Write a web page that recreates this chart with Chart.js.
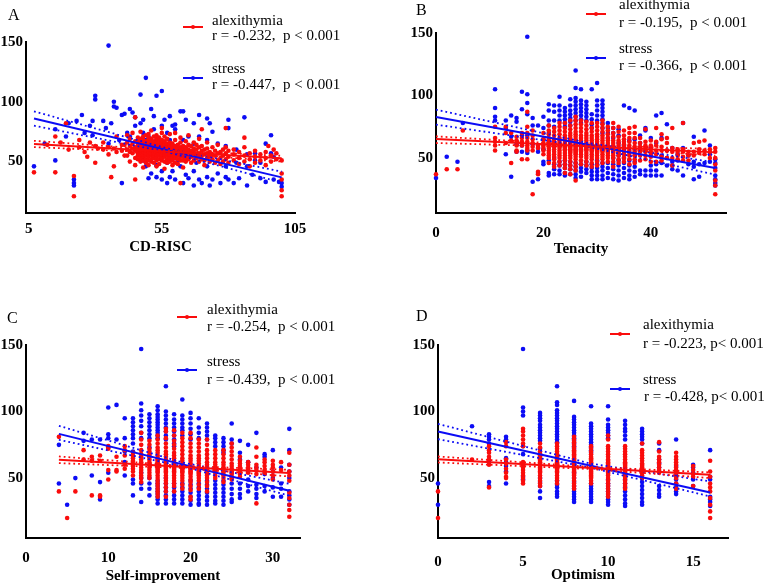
<!DOCTYPE html>
<html>
<head>
<meta charset="utf-8">
<script src="https://cdn.jsdelivr.net/npm/chart.js@4.4.1/dist/chart.umd.min.js"></script>
<style>
  body { margin: 0; background: #fff; }
  #page { position: relative; width: 772px; height: 585px; overflow: hidden; font-family: "Liberation Serif", serif; color: #000; }
  canvas { position: absolute; }
  .tag { position: absolute; font-size: 16px; line-height: 16px; }
  .txt { position: absolute; font-size: 15px; line-height: 15px; white-space: pre; }
  .sw { position: absolute; width: 20px; height: 2px; }
  .sw::after { content: ''; position: absolute; left: 8px; top: -1px; width: 4px; height: 4px; border-radius: 50%; background: inherit; }
  .red { background: rgb(250, 12, 12); }
  .blue { background: rgb(12, 12, 245); }
</style>
</head>
<body>
<div id="page">
  <canvas id="cA" width="386" height="290" style="left:0;top:0"></canvas>
  <canvas id="cB" width="386" height="290" style="left:386px;top:0"></canvas>
  <canvas id="cC" width="386" height="295" style="left:0;top:290px"></canvas>
  <canvas id="cD" width="386" height="295" style="left:386px;top:290px"></canvas>

  <div class="tag" style="left:8px;top:7px">A</div>
  <div class="sw red" style="left:183px;top:26px"></div>
  <div class="txt" style="left:212px;top:13px">alexithymia</div>
  <div class="txt" style="left:212px;top:28px">r = -0.232,  p &lt; 0.001</div>
  <div class="sw blue" style="left:183px;top:77px"></div>
  <div class="txt" style="left:212px;top:61px">stress</div>
  <div class="txt" style="left:212px;top:77px">r = -0.447,  p &lt; 0.001</div>

  <div class="tag" style="left:416px;top:2px">B</div>
  <div class="sw red" style="left:586px;top:13px"></div>
  <div class="txt" style="left:619px;top:-3px">alexithymia</div>
  <div class="txt" style="left:619px;top:15px">r = -0.195,  p &lt; 0.001</div>
  <div class="sw blue" style="left:586px;top:57px"></div>
  <div class="txt" style="left:619px;top:41px">stress</div>
  <div class="txt" style="left:619px;top:58px">r = -0.366,  p &lt; 0.001</div>

  <div class="tag" style="left:7px;top:310px">C</div>
  <div class="sw red" style="left:177px;top:316px"></div>
  <div class="txt" style="left:207px;top:302px">alexithymia</div>
  <div class="txt" style="left:207px;top:319px">r = -0.254,  p &lt; 0.001</div>
  <div class="sw blue" style="left:177px;top:369px"></div>
  <div class="txt" style="left:207px;top:354px">stress</div>
  <div class="txt" style="left:207px;top:372px">r = -0.439,  p &lt; 0.001</div>

  <div class="tag" style="left:416px;top:308px">D</div>
  <div class="sw red" style="left:610px;top:333px"></div>
  <div class="txt" style="left:643px;top:317px">alexithymia</div>
  <div class="txt" style="left:643px;top:336px">r = -0.223, p&lt; 0.001</div>
  <div class="sw blue" style="left:610px;top:388px"></div>
  <div class="txt" style="left:643px;top:372px">stress</div>
  <div class="txt" style="left:644px;top:389px">r = -0.428, p&lt; 0.001</div>
</div>

<script>
// tick labels
const yTicks = [50, 100, 150];
const aXTicks = [5, 55, 105];
const bXTicks = [0, 20, 40];
const cXTicks = [0, 10, 20, 30];
const dXTicks = [0, 5, 10, 15];

// scatter data, [x, [y values at that x]]
const aBlue = [[7,[46]],[11,[65]],[15,[77,51]],[19,[71]],[20,[82]],[22,[35,32,30]],[23,[84]],[25,[89]],[26,[74]],[28,[80]],[29,[72,84]],
  [30,[105,102]],[33,[84]],[34,[78]],[35,[147,65]],[36,[82]],[37,[100,96]],[38,[95]],[39,[68]],[40,[89,32]],[41,[90]],[42,[74]],[43,[94,71]],
  [44,[91]],[45,[87,80]],[47,[106,82]],[48,[85,74,51]],[49,[120,68,46]],[50,[71,36]],[51,[94,40]],[52,[88,77]],[53,[105,68,47,37]],
  [55,[109,80,42,35]],[56,[85]],[57,[74,49,32]],[58,[88,68,37]],[59,[80,42]],[60,[81,77,35]],[61,[51]],[62,[92,46]],[63,[92,68,32]],
  [64,[85,39]],[65,[71,36]],[67,[82,65,42,30]],[68,[49]],[69,[89,71,35]],[70,[32]],[72,[86,68,46,37]],[73,[82,30]],[74,[75,35]],
  [76,[65,40]],[77,[32]],[79,[63,46,37]],[80,[85,78,35]],[82,[32]],[83,[60,49]],[84,[36]],[86,[87]],[87,[56,46,30]],[89,[39]],
  [90,[57,51]],[92,[49,36]],[94,[65,33]],[96,[72,57]],[97,[54,35]],[99,[33]],[100,[32,29]]];
const aRed = [[7,[41]],[12,[64]],[15,[71,41]],[17,[66]],[19,[82]],[20,[60]],[22,[38,21]],[24,[62,68]],[26,[58]],[27,[54]],[28,[66]],
  [30,[49,63]],[31,[61]],[33,[60,66]],[35,[56,62]],[36,[37]],[37,[46,61]],[38,[71,58]],[40,[59,64]],[41,[64,55]],
  [42,[60,66,55,72]],[43,[58,63,69,50]],[44,[61,57,65,74]],[45,[59,62,67,53,47,87,35]],
  [46,[52,55,57,59,61,63,65,67,70]],[47,[50,53,56,58,60,62,64,66,69,75]],[48,[45,51,54,56,58,60,62,64,66,68,71]],
  [49,[49,52,55,57,59,61,63,65,67,72]],[50,[47,51,54,56,58,60,62,64,66,68,70,73]],[51,[50,52,55,57,59,61,63,65,67,69,76]],
  [52,[49,53,55,57,59,61,63,65,67,71]],[53,[46,51,54,56,58,60,62,64,66,69,72]],[54,[48,52,55,57,59,61,63,65,67,70]],
  [55,[51,53,56,58,60,62,64,66,68,74,78]],[56,[44,50,54,56,58,60,62,64,67,71]],[57,[49,52,55,57,59,61,63,65,69]],
  [58,[50,53,56,58,60,62,64,66,73]],[59,[47,51,54,56,58,60,62,65]],[60,[49,53,55,57,59,61,63,68,74]],
  [61,[48,52,55,57,59,61,64]],[62,[32,51,54,56,58,60,62,66,70]],[63,[45,51,54,56,58,61,63]],[64,[50,53,56,59,62,67]],
  [65,[52,55,58,60,64,72]],[66,[54,57,59,63,49]],[67,[51,55,58,61,66]],[68,[53,56,60,64]],[69,[50,54,57,62,69]],
  [70,[52,55,59,63,77]],[71,[51,56,60,47]],[72,[53,57,61,66]],[73,[50,54,58]],[74,[52,56,62]],[75,[49,55,59]],
  [76,[51,57,64]],[77,[53,58,48]],[78,[50,55,60]],[79,[52,57,62,78]],[80,[54,49,59]],[82,[51,56,60]],[84,[53,58,48]],
  [86,[50,55,62,70]],[88,[52,57,46]],[90,[54,59,49]],[92,[51,56]],[94,[53,58,47]],[95,[63]],[96,[50,55]],[97,[60]],
  [98,[52,57]],[100,[51,40,35,26,21]]];

const bBlue = [[0,[34]],[2,[51]],[4,[47]],[5,[78]],[11,[105,90,83,80]],[13,[80,74,53]],[14,[84,67,35]],[15,[82,79,61,55]],
  [16,[103,89,68,60,55]],[17,[147,101,94,85,68,56,54]],[18,[82,76,61,31]],[19,[76,58,55,38,33]],[20,[83,74,65,57,47,45]],
  [21,[93,88,80,76,70,48,38,36]],[22,[92,87,80,75,50,45,41,37]],[23,[99,92,88,84,80,47,44,40,37]],
  [24,[90,87,84,81,78,75,48,45,42,38,36]],[25,[97,92,88,85,82,79,76,47,44,41,37]],
  [26,[120,106,98,95,92,89,86,83,80,46,43,40,37,34]],[27,[105,96,93,90,87,84,81,78,45,42,39,35]],
  [28,[95,92,89,86,83,80,47,44,41,38]],[29,[105,85,81,77,74,45,42,39,36,33]],[30,[110,96,92,88,84,80,48,45,42,39,36,33]],
  [31,[96,93,90,87,84,81,78,74,70,46,43,40,36,33]],[32,[78,74,70,66,46,42,38,34]],[33,[74,70,66,50,45,41,37,33]],
  [34,[73,68,62,52,48,44,40,36,32]],[35,[92,60,50,46,42,38,34]],[36,[90,64,48,44,40,36,33]],[37,[88,65,52,47,43,39,35]],
  [38,[68,62,56,40,37]],[39,[74,72,56,40,36]],[40,[66,58,52,44,40,36]],[41,[84,62,45,40,36]],[42,[86,66,52,46,36]],
  [43,[77,56,50,44]],[44,[58,47,44,41]],[45,[53,48,40]],[46,[78,58,36]],[47,[52,45]],[48,[67,47,43,33]],[49,[45,35]],
  [50,[72,46]],[51,[60,53,47]],[52,[49,46,42,36,33,30,28]]];
const bRed = [[0,[37]],[2,[41]],[4,[41]],[5,[72]],[11,[75,66,63,60,56]],[13,[75,70,62]],[14,[70,64,46]],[15,[67,64,60,56,55]],
  [16,[70,66,63,60,49]],[17,[87,75,70,66,63,60,58,56,49]],[18,[72,68,65,62,59,56,21]],[19,[60,58,39,37]],[20,[70,65,62,60,58,56,53]],
  [21,[76,72,69,66,64,62,60,58,56,54,52,50,46]],[22,[74,71,68,65,63,61,59,57,55,53,51,49,46,43]],
  [23,[78,75,72,69,66,64,62,60,58,56,54,52,50,47,44]],[24,[78,74,71,68,66,64,62,61,60,59,58,57,56,54,52,50,48,45,42,38]],
  [25,[80,76,73,70,68,66,64,63,62,61,60,59,58,57,56,55,54,52,50,47,44,41,37]],
  [26,[83,80,77,74,71,69,67,65,63,62,61,60,59,58,57,56,55,54,53,51,49,46,43,40,32]],
  [27,[80,77,74,71,68,66,64,62,61,60,59,58,57,56,55,53,51,48,45]],[28,[79,76,73,70,68,66,64,62,61,60,59,58,57,56,54,52,50,47,44]],
  [29,[78,74,71,68,66,64,62,61,60,59,58,57,56,55,53,51,49,46,43]],[30,[78,75,72,69,67,65,63,61,60,59,58,57,56,55,54,52,50,47,44]],
  [31,[80,77,74,71,68,66,64,62,60,59,58,57,56,55,53,51,49,46]],[32,[75,72,69,66,64,62,60,58,57,56,55,54,52,50,47]],
  [33,[78,74,70,67,64,62,60,58,57,56,55,54,52,50,47,43]],[34,[75,71,67,64,62,60,58,57,56,55,54,52,49,46]],
  [35,[72,68,65,63,61,59,57,55,53,50,47]],[36,[74,70,66,63,60,58,56,54,52,49,45]],[37,[75,70,66,62,59,57,55,52,49,46]],
  [38,[66,62,59,57,55,52,48]],[39,[73,63,60,58,55,52,49]],[40,[64,60,57,54,51,47]],[41,[74,63,60,56,53,47]],
  [42,[69,65,59,56,51,48]],[43,[66,62,56,50]],[44,[74,58,55,50,44]],[45,[57,55,52,49]],[46,[78,57,55,51,48]],[47,[55,52,48]],
  [48,[62,55,52]],[49,[63,57,54]],[50,[64,56,53]],[51,[57,55,50]],[52,[58,55,50,45,40,32,28,21]]];

const cBlue = [[4,[75,46]],[5,[30]],[6,[50]],[7,[84,78]],[8,[79,52]],[9,[79,47,34]],[10,[103,83,80,73,54]],[11,[105,79]],
  [12,[95,80,70,62,52]],[13,[95,92,89,86,83,80,76,70,49,46,37]],[14,[147,106,101,97,93,89,84,80,54,50,46,42,32]],
  [15,[98,95,92,89,86,83,80,73,66,60,50,46,42,37]],[16,[104,101,98,96,94,92,90,88,86,84,82,80,48,46,44,42,40,38,36,34,31]],
  [17,[119,100,97,94,91,88,85,82,79,50,46,43,40,37,34,31]],[18,[98,94,91,88,85,82,79,76,74,46,43,40,37,34,31]],
  [19,[109,97,94,91,88,86,82,46,43,40,37,34,31]],[20,[99,95,91,87,83,79,48,45,42,39,36,33,30]],
  [21,[95,88,84,80,46,43,40,37,34,31,30]],[22,[91,88,85,82,79,48,45,42,39,36,33,30]],[23,[82,80,77,74,48,45,42,39,36,33,31]],
  [24,[80,77,74,71,69,48,45,42,39,36,33,30]],[25,[91,79,76,54,50,46,42,38,34,32]],[26,[78,69,64,46,42,38,35]],
  [27,[75,62,55,49,44,40]],[28,[84,58,45,42,38,35]],[29,[68,66,53,44,40]],[30,[71,55,50,43,36]],[31,[58,46,42,36]],
  [32,[87,71,60,55,50,40,37,34,30]]];
const cRed = [[4,[81,40]],[5,[20]],[6,[40]],[7,[71,64]],[8,[66,63,37]],[9,[67,63,37,36]],[10,[74,72,56,49]],[11,[66,56,55]],
  [12,[74,71,67,60,57]],[13,[69,67,65,63,61,59,57,55,52]],[14,[84,79,75,71,68,66,64,62,60,58,56,54,52,50,47]],
  [15,[78,75,72,70,68,66,64,62,60,58,56,54,52,50]],
  [16,[82,79,76,73,71,69,67,65,64,63,62,61,60,59,58,57,56,55,54,52,50,48,46,44,42,40,38,36]],
  [17,[87,85,80,76,73,70,68,66,64,62,61,60,59,58,57,56,55,54,52,50,48,46,43,40,36]],
  [18,[86,82,78,75,72,69,67,65,63,61,60,59,58,57,56,55,54,52,50,48,46,44,40]],
  [19,[84,80,77,74,71,68,65,63,61,60,59,58,57,56,55,54,52,50,48,45,42]],
  [20,[84,80,76,73,70,67,65,63,61,59,58,57,56,55,54,53,51,49,47,44,41,36,34]],
  [21,[79,76,73,70,67,65,63,61,59,57,56,55,54,53,52,50,48,45,42]],[22,[79,75,71,68,65,62,60,58,57,56,55,54,53,52,50,47,44,40]],
  [23,[71,68,65,62,60,58,56,55,54,52,50]],[24,[71,68,65,62,60,58,57,56,55,54,52,50,47]],[25,[76,73,70,67,64,61,59,57,55,53,51,49]],
  [26,[66,63,61,59,57,55,53,51]],[27,[62,60,58,56,54]],[28,[73,66,60,58,56,53,31]],[29,[64,62,59,56,54]],[30,[63,60,58,55,52,49]],
  [31,[62,56]],[32,[69,60,55,52,48,39,35,30,26,21]]];

const dBlue = [[0,[46,30]],[2,[89]],[3,[83,81,79,76,62,47,44]],[4,[81,79,65,62,59,55,46]],[5,[147,103,100,97,74,68,51,49]],
  [6,[99,97,95,93,90,88,86,84,82,80,78,72,68,50,47,44,40,35]],
  [7,[119,107,105,101,99,97,95,93,91,89,87,85,83,81,79,77,48,45,43,40,38,36]],
  [8,[108,96,94,92,90,88,86,84,82,80,78,76,74,72,54,50,47,44,42,40,38,36,34,32]],
  [9,[104,91,89,87,85,83,81,79,77,75,73,71,69,46,44,42,40,38,36,34,32]],[10,[104,94,90,88,86,84,82,80,49,46,44,42,40,38,36,34,32,30]],
  [11,[93,90,87,85,82,79,49,46,43,40,37,34,31,29]],[12,[87,85,83,81,79,76,54,50,47,44,41,38,35,32,30]],
  [13,[76,71,64,61,58,55,44,41,38,36]],[14,[79,59,55,52,49,46,43,40,38]],[15,[60,58,54,49,44]],[16,[71,51,49,36,34,32,29]]];
const dRed = [[0,[40,20]],[2,[64]],[3,[74,71,69,66,64,60,43]],[4,[77,74,64,61,57,54,51,50]],
  [5,[87,85,82,79,76,74,62,60,58,56,54,52,50,48,46]],[6,[76,73,70,68,67,66,65,64,63,62,61,60,59,58,57,56,55,54,52,50,48,46,44]],
  [7,[76,74,72,70,68,66,65,64,63,62,61,60,59,58,57,56,55,54,52,50,48,46]],
  [8,[81,79,77,75,73,71,70,69,68,67,66,65,64,63,62,61,60,59,58,57,56,55,54,53,52,50,48,46,44,42]],
  [9,[74,72,70,68,66,65,64,63,62,61,60,59,58,57,56,55,54,53,52,51,50,48,46]],
  [10,[82,79,74,72,70,68,66,64,63,62,61,60,59,58,57,56,55,54,53,52,50,48,46,44,42,40,38,36]],
  [11,[74,72,70,68,66,64,62,61,60,59,58,57,56,55,54,53,52,51,50,48,46,44,42]],
  [12,[76,71,69,67,65,63,61,60,59,58,57,56,55,54,52,50]],[13,[77,70,66,64,62,60,58,56,54]],
  [14,[69,66,64,62,60,58,56,54,50,46,42]],[15,[59,56,53,51,44]],[16,[63,55,51,46,43,40,35,30,25,20]]];

// fitted lines and 95% bands: [x, y]
const aFitRed = [[7, 64.6], [100, 52.8]];
const aFitBlue = [[7, 86], [100, 36.8]];
const aBandRed = [[[7, 67.4], [57, 59.3], [100, 54.8]], [[7, 62.1], [57, 57.3], [100, 50]]];
const aBandBlue = [[[7, 92], [57, 61], [100, 41.6]], [[7, 80], [57, 58], [100, 32.5]]];

const bFitRed = [[0, 65.2], [52, 54.5]];
const bFitBlue = [[0, 82.8], [52, 42]];
const bBandRed = [[[0, 67.3], [28, 60.2], [52, 57.2]], [[0, 62], [28, 58.6], [52, 51.9]]];
const bBandBlue = [[[0, 88.7], [28, 62.3], [52, 46.5]], [[0, 76.7], [28, 59.3], [52, 36.7]]];

const cFitRed = [[4, 63.75], [32, 53.75]];
const cFitBlue = [[4, 83.25], [32, 40.5]];
const cBandRed = [[[4, 66.25], [19, 59.2], [32, 56.25]], [[4, 61.25], [19, 57.6], [32, 51.25]]];
const cBandBlue = [[[4, 89.25], [19, 61.8], [32, 45.75]], [[4, 78.75], [19, 58.9], [32, 36.75]]];

const dFitRed = [[0, 64.25], [16, 52.5]];
const dFitBlue = [[0, 85], [16, 39.25]];
const dBandRed = [[[0, 66.25], [9, 58.4], [16, 54.25]], [[0, 61.75], [9, 56.8], [16, 50]]];
const dBandBlue = [[[0, 90.75], [9, 60.8], [16, 47.5]], [[0, 79.25], [9, 57.8], [16, 36.25]]];

const RED = 'rgb(250, 12, 12)';
const BLUE = 'rgb(12, 12, 245)';
const axisFont = { family: 'Liberation Serif', size: 15, weight: 'bold' };

function toPoints(cols) {
  const pts = [];
  cols.forEach(([x, ys]) => ys.forEach(y => pts.push({ x: x, y: y })));
  return pts;
}

function lineSet(pairs, color, dotted) {
  return {
    data: pairs.map(([x, y]) => ({ x: x, y: y })),
    showLine: true, pointRadius: 0, borderColor: color,
    borderWidth: dotted ? 1.8 : 2, borderDash: dotted ? [1.8, 3] : [], clip: false
  };
}

function dotSet(cols, color) {
  return { data: toPoints(cols), pointRadius: 2.3, borderWidth: 0, backgroundColor: color, clip: false };
}

function panel(id, o) {
  const h = document.getElementById(id).height;
  new Chart(document.getElementById(id), {
    type: 'scatter',
    data: {
      datasets: [
        lineSet(o.fitRed, RED, false), lineSet(o.bandRed[0], RED, true), lineSet(o.bandRed[1], RED, true),
        lineSet(o.fitBlue, BLUE, false), lineSet(o.bandBlue[0], BLUE, true), lineSet(o.bandBlue[1], BLUE, true),
        dotSet(o.red, RED), dotSet(o.blue, BLUE)
      ]
    },
    options: {
      responsive: false, animation: false, devicePixelRatio: 1,
      layout: { padding: { left: 0, top: o.top, right: o.right, bottom: 0 } },
      plugins: { legend: { display: false }, tooltip: { enabled: false } },
      scales: {
        x: {
          type: 'linear', min: o.xMin, max: o.xMax,
          grid: { display: false, drawTicks: false },
          border: { color: '#000', width: 2 },
          afterBuildTicks: s => { s.ticks = o.xTicks.map(v => ({ value: v })); },
          afterFit: s => { s.height = h - o.bottom; },
          ticks: { padding: o.xPad, color: '#000', font: axisFont, maxRotation: 0, autoSkip: false },
          title: { display: true, text: o.title, color: '#000', font: axisFont, padding: { top: 0, bottom: o.titlePad } }
        },
        y: {
          type: 'linear', min: o.yMin, max: 150,
          grid: { display: false, drawTicks: false },
          border: { color: '#000', width: 2 },
          afterBuildTicks: s => { s.ticks = yTicks.map(v => ({ value: v })); },
          afterFit: s => { s.width = o.left; },
          ticks: { padding: 3, color: '#000', font: axisFont, autoSkip: false }
        }
      }
    }
  });
}

panel('cA', { red: aRed, blue: aBlue, fitRed: aFitRed, fitBlue: aFitBlue, bandRed: aBandRed, bandBlue: aBandBlue,
  xTicks: aXTicks, xMin: 4, xMax: 105, yMin: 7, title: 'CD-RISC',
  left: 26, top: 42, right: 91, bottom: 213, xPad: 7, titlePad: 34 });
panel('cB', { red: bRed, blue: bBlue, fitRed: bFitRed, fitBlue: bFitBlue, bandRed: bBandRed, bandBlue: bBandBlue,
  xTicks: bXTicks, xMin: 0, xMax: 54, yMin: 6, title: 'Tenacity',
  left: 50, top: 33, right: 46, bottom: 213, xPad: 11, titlePad: 32 });
panel('cC', { red: cRed, blue: cBlue, fitRed: cFitRed, fitBlue: cFitBlue, bandRed: cBandRed, bandBlue: cBandBlue,
  xTicks: cXTicks, xMin: 0, xMax: 33.3, yMin: 5, title: 'Self-improvement',
  left: 26, top: 55, right: 86, bottom: 248, xPad: 11, titlePad: 0 });
panel('cD', { red: dRed, blue: dBlue, fitRed: dFitRed, fitBlue: dFitBlue, bandRed: dBandRed, bandBlue: dBandBlue,
  xTicks: dXTicks, xMin: 0, xMax: 17.05, yMin: 5, title: 'Optimism',
  left: 52, top: 55, right: 44, bottom: 248, xPad: 15, titlePad: 1 });
</script>
</body>
</html>
